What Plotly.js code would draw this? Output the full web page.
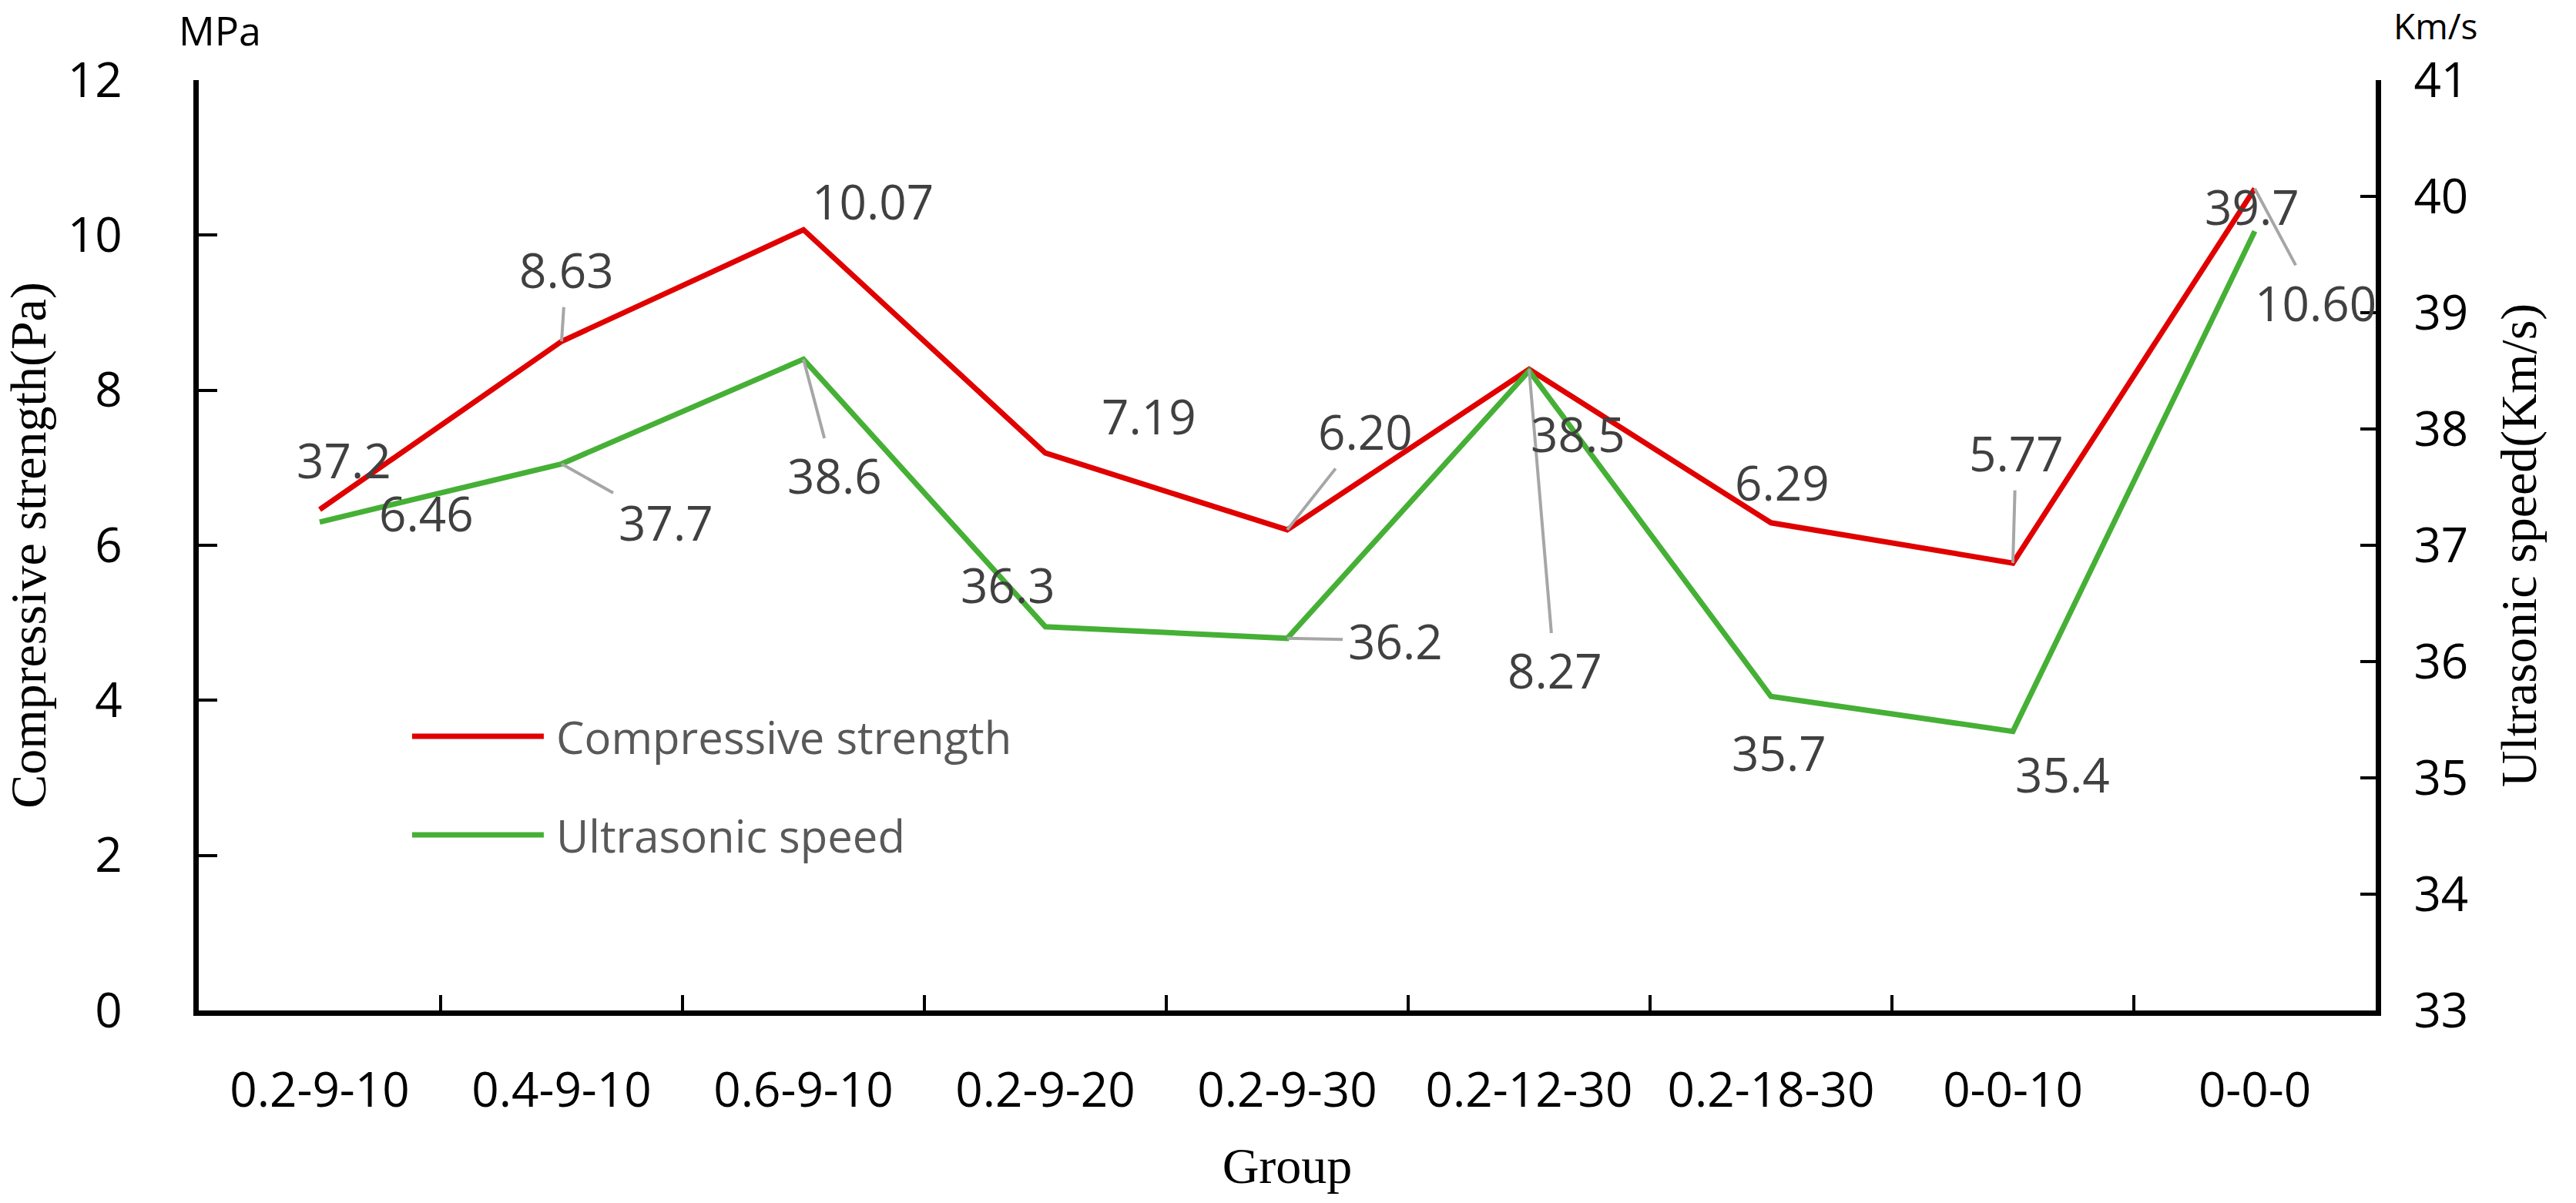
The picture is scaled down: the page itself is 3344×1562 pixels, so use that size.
<!DOCTYPE html>
<html>
<head>
<meta charset="utf-8">
<script src="https://cdn.plot.ly/plotly-3.0.1.min.js"></script>
<style>html,body{margin:0;padding:0;background:#fff;}</style>
</head>
<body>
<div id="chart" style="width:3344px;height:1562px;"></div>
<script>
// ---- data ----
const categories = ['0.2-9-10','0.4-9-10','0.6-9-10','0.2-9-20','0.2-9-30','0.2-12-30','0.2-18-30','0-0-10','0-0-0'];
const compressiveStrength = [6.46, 8.63, 10.07, 7.19, 6.20, 8.27, 6.29, 5.77, 10.60];
const ultrasonicSpeed = [37.2, 37.7, 38.6, 36.3, 36.2, 38.5, 35.7, 35.4, 39.7];
const leftTicks = [0, 2, 4, 6, 8, 10, 12];
const rightTicks = [33, 34, 35, 36, 37, 38, 39, 40, 41];
const seriesNames = ['Compressive strength', 'Ultrasonic speed'];

// ---- label placement (pixel offsets from the point) ----
const strengthLabelOffsets = [[138,4],[6,-93],[90,-37],[134,-48],[101,-128],[33,391],[14,-53],[4,-143],[79,148]];
const strengthLeader = [false,true,false,false,true,true,false,true,true];
const speedLabelOffsets = [[31,-81],[135,76],[40,151],[-49,-55],[140,3],[63,81],[10,73],[64,55],[-4,-32]];
const speedLeader = [false,true,true,false,true,false,false,false,false];

const RED = '#E00000', GREEN = '#45B035';
const labelFont = {family: 'Open Sans, sans-serif', size: 62, color: '#404040'};
const tickFont = {family: 'Open Sans, sans-serif', size: 62, color: '#000000'};
const titleFont = {family: 'Liberation Serif, serif', size: 66, color: '#000000'};

const traces = [
  {x: categories, y: compressiveStrength, name: seriesNames[0], type: 'scatter', mode: 'lines',
   line: {color: RED, width: 7}, yaxis: 'y', showlegend: false, hoverinfo: 'skip'},
  {x: categories, y: ultrasonicSpeed, name: seriesNames[1], type: 'scatter', mode: 'lines',
   line: {color: GREEN, width: 7}, yaxis: 'y2', showlegend: false, hoverinfo: 'skip'}
];

const annotations = [];
function addLabels(vals, yref, decimals, offsets, leaders) {
  vals.forEach((v, i) => {
    annotations.push({
      x: categories[i], y: v, xref: 'x', yref: yref,
      text: v.toFixed(decimals), font: labelFont,
      showarrow: true, arrowhead: 0, arrowwidth: 4,
      arrowcolor: leaders[i] ? '#A6A6A6' : 'rgba(0,0,0,0)',
      ax: offsets[i][0], ay: offsets[i][1], borderpad: 6
    });
  });
}
addLabels(compressiveStrength, 'y', 2, strengthLabelOffsets, strengthLeader);
addLabels(ultrasonicSpeed, 'y2', 1, speedLabelOffsets, speedLeader);

// unit labels
annotations.push({xref: 'paper', yref: 'paper', x: 0.0096, y: 1.0546, xanchor: 'center', yanchor: 'middle',
  text: 'MPa', showarrow: false, font: {family: 'Open Sans, sans-serif', size: 52, color: '#000'}});
annotations.push({xref: 'paper', yref: 'paper', x: 1.0276, y: 1.0853, xanchor: 'center', yanchor: 'top',
  text: 'Km/s', showarrow: false, borderpad: 0, font: {family: 'Open Sans, sans-serif', size: 46, color: '#000'}});

// legend (drawn manually for long sample lines)
const legendY = [0.2947, 0.1887];
const legendColors = [RED, GREEN];
const shapes = [];
seriesNames.forEach((nm, i) => {
  shapes.push({type: 'line', xref: 'paper', yref: 'paper', x0: 0.098, x1: 0.1585, y0: legendY[i], y1: legendY[i],
    line: {color: legendColors[i], width: 7}});
  annotations.push({xref: 'paper', yref: 'paper', x: 0.1635, y: legendY[i], xanchor: 'left', yanchor: 'middle',
    text: nm, showarrow: false, font: {family: 'Open Sans, sans-serif', size: 58, color: '#595959'}});
});

const layout = {
  width: 3344, height: 1562,
  margin: {l: 258, r: 260, t: 104, b: 250, pad: 0},
  paper_bgcolor: '#ffffff', plot_bgcolor: '#ffffff',
  showlegend: false,
  xaxis: {
    type: 'category', range: [-0.5, 8.5], tickson: 'boundaries',
    showline: true, linecolor: '#000', linewidth: 7,
    ticks: 'inside', ticklen: 20, tickwidth: 4, tickcolor: '#000',
    showgrid: false, zeroline: false, tickfont: tickFont, ticklabelstandoff: 44,
    title: {text: 'Group', font: titleFont, standoff: 38}
  },
  yaxis: {
    range: [0, 12], tickvals: leftTicks, ticktext: leftTicks.map(String),
    showline: true, linecolor: '#000', linewidth: 7,
    ticks: 'inside', ticklen: 24, tickwidth: 4, tickcolor: '#000',
    showgrid: false, zeroline: false, tickfont: tickFont, ticklabelstandoff: 80,
    title: {text: 'Compressive strength(Pa)', font: titleFont, standoff: 25}
  },
  yaxis2: {
    range: [33, 41], tickvals: rightTicks, ticktext: rightTicks.map(String),
    overlaying: 'y', side: 'right',
    showline: true, linecolor: '#000', linewidth: 7,
    ticks: 'inside', ticklen: 20, tickwidth: 4, tickcolor: '#000',
    showgrid: false, zeroline: false, tickfont: tickFont, ticklabelstandoff: 30,
    title: {text: 'Ultrasonic speed(Km/s)', font: titleFont, standoff: 45}
  },
  annotations: annotations,
  shapes: shapes
};

Plotly.newPlot('chart', traces, layout, {displayModeBar: false, staticPlot: true});
</script>
</body>
</html>
